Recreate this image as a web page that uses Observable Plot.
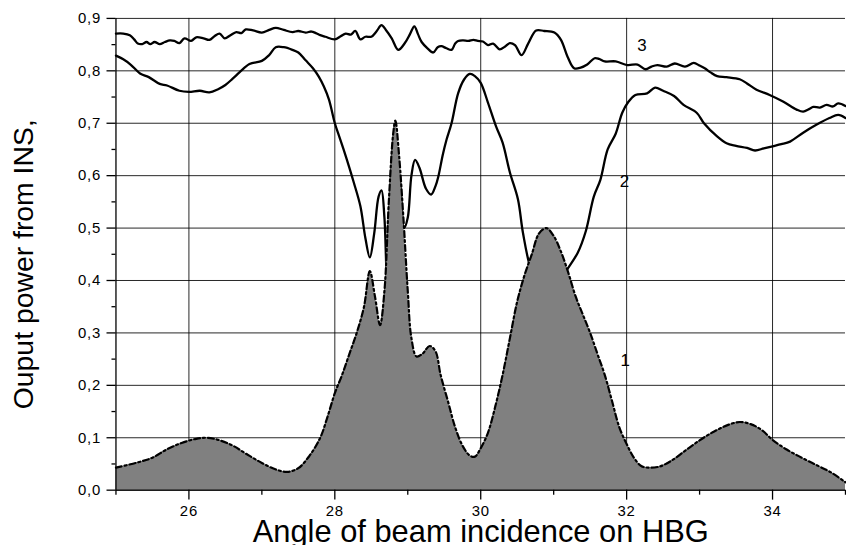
<!DOCTYPE html>
<html>
<head>
<meta charset="utf-8">
<script src="https://cdn.jsdelivr.net/npm/d3@7"></script>
<script src="https://cdn.jsdelivr.net/npm/@observablehq/plot@0.6"></script>
<style>
  html, body { margin: 0; padding: 0; background: #fff; overflow: hidden; }
  #chart svg { display: block; }
</style>
</head>
<body>
<div id="chart"></div>
<script>
// Curve 1 (filled, dash-dot)
const x1 = [25.0,25.3,25.5,25.7,25.9,26.1,26.25,26.4,26.6,26.8,27.0,27.2,27.35,27.5,27.65,27.8,27.9,28.0,28.1,28.2,28.3,28.4,28.48,28.55,28.62,28.68,28.74,28.8,28.83,28.88,28.94,29.0,29.05,29.12,29.2,29.3,29.38,29.45,29.55,29.65,29.75,29.85,29.92,30.0,30.1,30.2,30.3,30.4,30.5,30.6,30.7,30.8,30.9,31.0,31.1,31.2,31.3,31.4,31.5,31.6,31.7,31.8,31.9,32.0,32.1,32.2,32.3,32.45,32.6,32.8,33.0,33.2,33.4,33.55,33.7,33.85,34.0,34.2,34.4,34.6,34.8,35.0];
const y1 = [0.043,0.053,0.062,0.078,0.09,0.098,0.1,0.096,0.085,0.068,0.052,0.039,0.035,0.042,0.065,0.1,0.14,0.185,0.22,0.26,0.3,0.35,0.418,0.37,0.315,0.38,0.55,0.68,0.705,0.64,0.52,0.38,0.29,0.255,0.26,0.275,0.265,0.22,0.17,0.12,0.085,0.066,0.064,0.08,0.11,0.16,0.22,0.29,0.36,0.41,0.45,0.49,0.5,0.485,0.455,0.415,0.37,0.335,0.3,0.26,0.22,0.17,0.12,0.088,0.062,0.046,0.043,0.045,0.055,0.075,0.095,0.112,0.125,0.13,0.126,0.115,0.096,0.077,0.062,0.048,0.034,0.015];

// Curve 2 (solid)
const x2 = [25.0,25.1,25.2,25.33,25.45,25.6,25.7,25.87,26.0,26.15,26.28,26.4,26.5,26.6,26.7,26.83,27.0,27.1,27.19,27.3,27.42,27.5,27.6,27.7,27.78,27.85,27.92,28.0,28.06,28.12,28.2,28.26,28.35,28.42,28.48,28.54,28.6,28.64,28.68,28.72,28.76,28.82,28.88,28.95,29.0,29.05,29.1,29.16,29.25,29.32,29.38,29.42,29.48,29.53,29.6,29.69,29.77,29.85,29.92,30.0,30.1,30.21,30.3,30.4,30.51,30.58,30.69,30.8,30.95,31.1,31.18,31.33,31.44,31.55,31.64,31.74,31.85,31.94,32.02,32.12,32.28,32.39,32.5,32.65,32.78,32.96,33.06,33.24,33.37,33.5,33.65,33.76,33.88,34.0,34.12,34.24,34.42,34.6,34.78,34.9,35.0];
const y2 = [0.829,0.822,0.812,0.795,0.788,0.775,0.772,0.762,0.76,0.762,0.759,0.765,0.773,0.785,0.798,0.813,0.819,0.83,0.845,0.845,0.84,0.835,0.82,0.805,0.789,0.77,0.745,0.70,0.675,0.65,0.615,0.587,0.542,0.48,0.444,0.49,0.56,0.572,0.52,0.40,0.45,0.62,0.6,0.5,0.52,0.6,0.63,0.615,0.575,0.564,0.58,0.599,0.64,0.668,0.70,0.757,0.783,0.794,0.79,0.777,0.739,0.694,0.663,0.606,0.555,0.49,0.42,0.39,0.385,0.40,0.42,0.453,0.494,0.56,0.592,0.65,0.68,0.72,0.74,0.754,0.757,0.768,0.762,0.752,0.735,0.72,0.70,0.675,0.662,0.657,0.653,0.648,0.652,0.656,0.66,0.665,0.682,0.697,0.71,0.716,0.71];

// Curve 3 (solid)
const x3 = [25.0,25.1,25.19,25.25,25.3,25.36,25.42,25.47,25.53,25.6,25.67,25.74,25.8,25.87,25.94,26.03,26.1,26.2,26.28,26.35,26.42,26.49,26.57,26.65,26.72,26.78,26.88,27.0,27.1,27.19,27.3,27.42,27.5,27.6,27.68,27.74,27.8,27.87,28.0,28.08,28.15,28.22,28.28,28.35,28.42,28.5,28.57,28.64,28.7,28.78,28.87,28.96,29.03,29.09,29.14,29.19,29.27,29.35,29.41,29.46,29.53,29.6,29.65,29.69,29.76,29.83,29.9,29.96,30.03,30.1,30.17,30.26,30.33,30.4,30.47,30.56,30.65,30.76,30.87,31.01,31.1,31.19,31.28,31.37,31.46,31.56,31.62,31.7,31.85,32.01,32.15,32.26,32.34,32.42,32.55,32.66,32.8,32.92,33.0,33.07,33.15,33.24,33.37,33.55,33.65,33.78,33.96,34.15,34.33,34.42,34.5,34.56,34.65,34.74,34.83,34.9,35.0];
const y3 = [0.871,0.871,0.868,0.86,0.852,0.851,0.855,0.851,0.855,0.851,0.855,0.858,0.857,0.853,0.862,0.857,0.864,0.862,0.859,0.866,0.871,0.862,0.868,0.874,0.872,0.879,0.877,0.873,0.878,0.882,0.878,0.874,0.876,0.873,0.875,0.872,0.868,0.865,0.86,0.866,0.871,0.869,0.876,0.86,0.865,0.865,0.875,0.887,0.878,0.862,0.84,0.853,0.87,0.885,0.87,0.855,0.843,0.835,0.845,0.847,0.843,0.84,0.852,0.857,0.858,0.857,0.859,0.857,0.856,0.849,0.852,0.841,0.846,0.853,0.849,0.83,0.852,0.877,0.876,0.873,0.859,0.827,0.805,0.806,0.812,0.824,0.823,0.818,0.818,0.811,0.812,0.803,0.808,0.811,0.808,0.814,0.808,0.815,0.81,0.805,0.797,0.79,0.788,0.784,0.776,0.764,0.754,0.741,0.726,0.722,0.727,0.731,0.73,0.735,0.732,0.738,0.733];

// Curve number labels
const labelText = ["1", "2", "3"];
const labelX = [31.98, 31.97, 32.21];
const labelY = [0.248, 0.589, 0.849];

// Ticks
const xMajorTicks = [26, 28, 30, 32, 34];
const xMinorTicks = [25, 27, 29, 31, 33, 35];
const yMajorTicks = [0, 0.1, 0.2, 0.3, 0.4, 0.5, 0.6, 0.7, 0.8, 0.9];
const yMinorTicks = [0.05, 0.15, 0.25, 0.35, 0.45, 0.55, 0.65, 0.75, 0.85];

const xTitle = "Angle of beam incidence on HBG";
const yTitle = "Ouput power from INS,";

const d1 = x1.map((x, i) => ({x, y: y1[i]}));
const d2 = x2.map((x, i) => ({x, y: y2[i]}));
const d3s = x3.map((x, i) => ({x, y: y3[i]}));
const labels = labelText.map((t, i) => ({t, x: labelX[i], y: labelY[i]}));

const fmt = d => d.toFixed(1).replace(".", ",");

const chart = Plot.plot({
  width: 850,
  height: 548,
  marginLeft: 116,
  marginRight: 1,
  marginTop: 18,
  marginBottom: 56,
  style: {fontFamily: "'Liberation Sans', Arial, sans-serif", fontSize: "14px", color: "#000", background: "#fff"},
  x: {domain: [25, 35]},
  y: {domain: [0, 0.9]},
  marks: [
    Plot.gridX(xMajorTicks, {stroke: "#000", strokeOpacity: 0.85, strokeWidth: 1}),
    Plot.gridY(yMajorTicks, {stroke: "#000", strokeOpacity: 0.85, strokeWidth: 1}),
    Plot.line(d2, {x: "x", y: "y", stroke: "#000", strokeWidth: 2.3, curve: "catmull-rom"}),
    Plot.line(d3s, {x: "x", y: "y", stroke: "#000", strokeWidth: 2.3, curve: "catmull-rom"}),
    Plot.areaY(d1, {x: "x", y: "y", fill: "#808080", curve: "catmull-rom"}),
    Plot.line(d1, {x: "x", y: "y", stroke: "#000", strokeWidth: 2.2, strokeDasharray: "6,3,2,3", curve: "catmull-rom"}),
    Plot.ruleX([25], {stroke: "#000", strokeWidth: 1.3}),
    Plot.ruleY([0], {stroke: "#000", strokeWidth: 1.3}),
    Plot.axisY(yMajorTicks, {tickSize: 9, tickPadding: 6, tickFormat: fmt, fontSize: 15, label: null, strokeWidth: 1.3}),
    Plot.axisY(yMinorTicks, {tickSize: 4, tickFormat: () => "", label: null, strokeWidth: 1.3}),
    Plot.axisX(xMajorTicks, {tickSize: 10, tickPadding: 5, fontSize: 15, label: null, strokeWidth: 1.3}),
    Plot.axisX(xMinorTicks, {tickSize: 5, tickFormat: () => "", label: null, strokeWidth: 1.3}),
    Plot.text(labels, {x: "x", y: "y", text: "t", fontSize: 17, fill: "#000"}),
    Plot.text([xTitle], {frameAnchor: "bottom", textAnchor: "middle", lineAnchor: "middle", dy: 42, fontSize: 31, fill: "#000", text: d => d}),
    Plot.text([yTitle], {frameAnchor: "left", textAnchor: "middle", lineAnchor: "middle", dx: -92, dy: 10, rotate: -90, fontSize: 28.5, fill: "#000", text: d => d})
  ]
});
// slightly widen axis tick labels to match the reference's broad digits
d3.select(chart).selectAll('g[aria-label="y-axis tick label"] text, g[aria-label="x-axis tick label"] text')
  .attr("letter-spacing", 0.8);
document.getElementById("chart").appendChild(chart);
</script>
</body>
</html>
